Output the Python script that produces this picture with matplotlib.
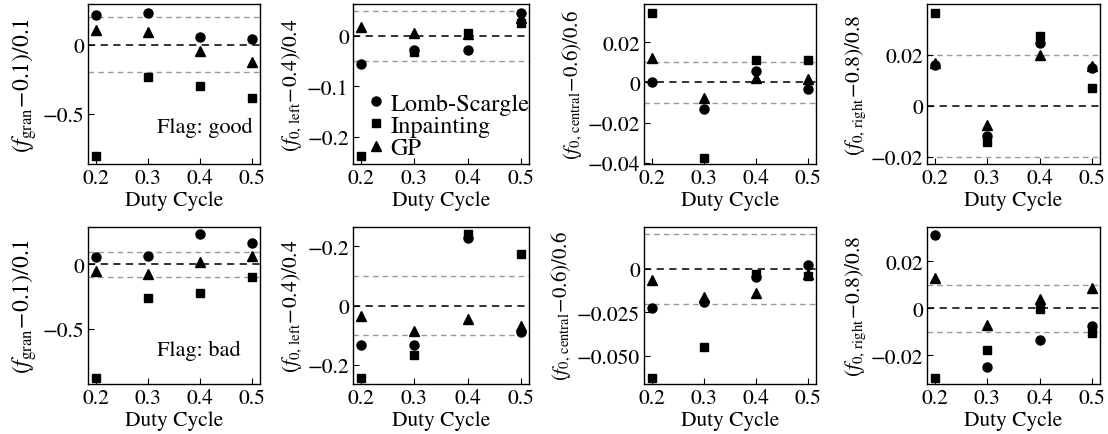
import matplotlib as mpl
mpl.use("Agg")
import matplotlib.pyplot as plt

mpl.rcParams.update({
    "font.family": "STIXGeneral",
    "mathtext.fontset": "stix",
    "font.size": 15,
    "axes.linewidth": 1.0,
    "xtick.direction": "in",
    "ytick.direction": "in",
    "xtick.major.size": 4,
    "ytick.major.size": 4,
    "axes.unicode_minus": True,
})

duty = [0.2, 0.3, 0.4, 0.5]

# top row: Flag good
gran_good_ls = [0.214, 0.229, 0.053, 0.041]
gran_good_inp = [-0.805, -0.231, -0.300, -0.387]
gran_good_gp = [0.108, 0.094, -0.048, -0.123]

left_good_ls = [-0.056, -0.029, -0.029, 0.046]
left_good_inp = [-0.238, -0.033, 0.006, 0.025]
left_good_gp = [0.018, 0.005, 0.004, 0.035]

central_good_ls = [0.0003, -0.0133, 0.0058, -0.003]
central_good_inp = [0.0343, -0.0375, 0.0113, 0.0113]
central_good_gp = [0.0122, -0.0075, 0.002, 0.0017]

right_good_ls = [0.016, -0.012, 0.0247, 0.0149]
right_good_inp = [0.0366, -0.0142, 0.0276, 0.007]
right_good_gp = [0.0168, -0.0075, 0.020, 0.0155]

# bottom row: Flag bad
gran_bad_ls = [0.057, 0.062, 0.238, 0.166]
gran_bad_inp = [-0.881, -0.259, -0.218, -0.098]
gran_bad_gp = [-0.052, -0.073, 0.016, 0.062]

left_bad_ls = [-0.132, -0.132, 0.229, -0.09]
left_bad_inp = [-0.245, -0.166, 0.241, 0.173]
left_bad_gp = [-0.037, -0.087, -0.046, -0.068]

central_bad_ls = [-0.0225, -0.0192, -0.0048, 0.0019]
central_bad_inp = [-0.0629, -0.0448, -0.0029, -0.004]
central_bad_gp = [-0.0063, -0.0163, -0.014, -0.003]

right_bad_ls = [0.0313, -0.0251, -0.0135, -0.0077]
right_bad_inp = [-0.0296, -0.0177, -0.0004, -0.0106]
right_bad_gp = [0.0129, -0.007, 0.004, 0.0087]

ylabels = [
    r"$(f_{\rm gran}\!-\!0.1)/0.1$",
    r"$(f_{\rm 0,\,left}\!-\!0.4)/0.4$",
    r"$(f_{\rm 0,\,central}\!-\!0.6)/0.6$",
    r"$(f_{\rm 0,\,right}\!-\!0.8)/0.8$",
]
ylabel_sizes = [17, 15.5, 15, 15.5]
thresholds = [[0.2, 0.05, 0.01, 0.02], [0.1, 0.1, 0.02, 0.01]]
ylims = [
    [(-0.861, 0.294), (-0.254, 0.063), (-0.0405, 0.039), (-0.0228, 0.040)],
    [(-0.927, 0.29), (-0.2655, 0.2655), (-0.0663, 0.024), (-0.0322, 0.0345)],
]
yticks = [
    [[0, -0.5], [0, -0.1, -0.2], [0.02, 0, -0.02, -0.04], [0.02, 0, -0.02]],
    [[0, -0.5], [0.2, 0, -0.2], [0, -0.025, -0.050], [0.02, 0, -0.02]],
]
yticklabels = [
    [["0", "\u22120.5"], ["0", "\u22120.1", "\u22120.2"],
     ["0.02", "0", "\u22120.02", "\u22120.04"], ["0.02", "0", "\u22120.02"]],
    [["0", "\u22120.5"], ["\u22120.2", "0", "\u22120.2"],
     ["0", "\u22120.025", "\u22120.050"], ["0.02", "0", "\u22120.02"]],
]
data = [
    [(gran_good_ls, gran_good_inp, gran_good_gp),
     (left_good_ls, left_good_inp, left_good_gp),
     (central_good_ls, central_good_inp, central_good_gp),
     (right_good_ls, right_good_inp, right_good_gp)],
    [(gran_bad_ls, gran_bad_inp, gran_bad_gp),
     (left_bad_ls, left_bad_inp, left_bad_gp),
     (central_bad_ls, central_bad_inp, central_bad_gp),
     (right_bad_ls, right_bad_inp, right_bad_gp)],
]

W, H = 1108, 435
fig = plt.figure(figsize=(W / 100, H / 100), dpi=100)
col_px = [(88, 172), (353, 176), (644, 172), (927, 173)]
row_px = [(5, 165), (228, 385)]

for r in range(2):
    for c in range(4):
        x0, w = col_px[c]
        top, bot = row_px[r]
        ax = fig.add_axes([x0 / W, 1 - bot / H, w / W, (bot - top) / H])
        ls, inp, gp = data[r][c]
        thr = thresholds[r][c]
        ax.axhline(thr, color="#9a9a9a", ls=(0, (4, 3)), lw=1.0, zorder=1)
        ax.axhline(-thr, color="#9a9a9a", ls=(0, (4, 3)), lw=1.0, zorder=1)
        ax.axhline(0, color="#222222", ls=(0, (4, 3)), lw=1.3, zorder=1)
        h_gp, = ax.plot(duty, gp, "^", color="black", ms=6.5, ls="none", zorder=3)
        h_inp, = ax.plot(duty, inp, "s", color="black", ms=6, ls="none", zorder=3)
        h_ls, = ax.plot(duty, ls, "o", color="black", ms=6.5, ls="none", zorder=3)
        ax.set_xlim(0.185, 0.515)
        ax.set_ylim(*ylims[r][c])
        ax.set_xticks(duty)
        ax.set_xticklabels(["0.2", "0.3", "0.4", "0.5"])
        ax.set_yticks(yticks[r][c])
        ax.set_yticklabels(yticklabels[r][c])
        ax.tick_params(axis="both", labelsize=15.5, pad=3)
        ax.set_xlabel("Duty Cycle", fontsize=15.5, labelpad=2)
        ax.set_ylabel(ylabels[c], fontsize=ylabel_sizes[c], labelpad=2)
        if r == 0 and c == 1:
            ax.legend([h_ls, h_inp, h_gp], ["Lomb-Scargle", "Inpainting", "GP"],
                      loc="lower left", bbox_to_anchor=(0.0, -0.06), frameon=False,
                      handlelength=0.7, handletextpad=0.25, labelspacing=0.0,
                      borderaxespad=0.2, fontsize=17.5)
        if c == 0:
            ax.text(0.40, 0.23 if r == 0 else 0.22, "Flag: good" if r == 0 else "Flag: bad",
                    transform=ax.transAxes, fontsize=16, va="center", ha="left")

fig.savefig("out.png", dpi=100)
